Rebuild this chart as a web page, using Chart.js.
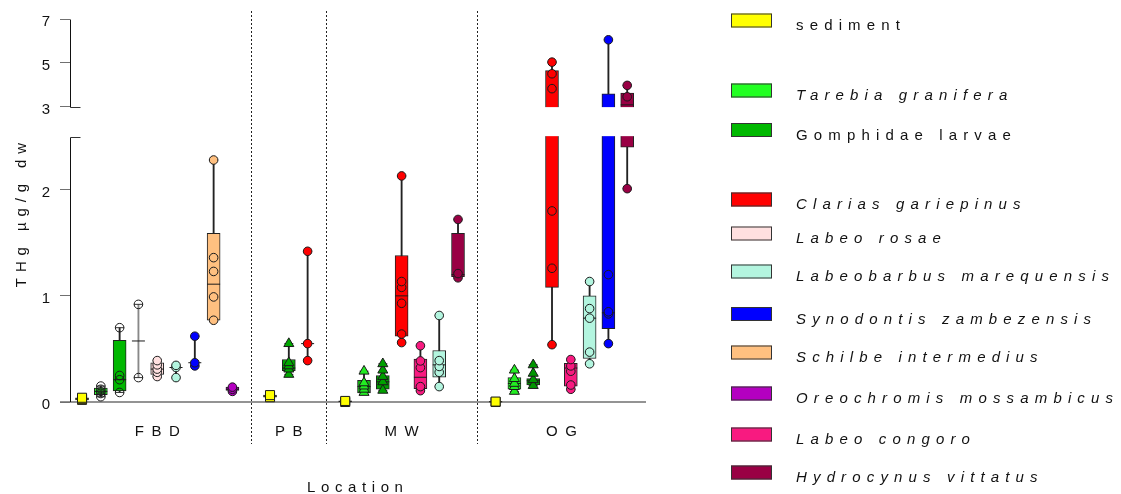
<!DOCTYPE html>
<html>
<head>
<meta charset="utf-8">
<title>THg by location</title>
<script src="https://cdn.jsdelivr.net/npm/chart.js@4.4.1/dist/chart.umd.min.js"></script>
<style>
  html, body { margin: 0; padding: 0; background: #ffffff; }
  #wrap { position: relative; width: 1121px; height: 494px; }
</style>
</head>
<body>
<div id="wrap"><canvas id="chart" width="1121" height="494"></canvas></div>
<script>
// ---- data -------------------------------------------------------------
const locations = ['FBD', 'PB', 'MW', 'OG'];
const yTickValues = [0, 1, 2, 3, 5, 7];
const lowerRange = [0, 2.5];   // lower panel of the broken axis
const upperRange = [3, 7];     // upper panel of the broken axis

// THg (µg/g dw) per location in the order FBD, PB, MW, OG; null = not sampled
const sedimentValues    = [[0.02, 0.03, 0.04], [0.045, 0.065], [0.0, 0.01], [0.0, 0.004]];
const sedimentBox       = [[0.02, 0.03, 0.04], [0.045, 0.055, 0.065], [0.0, 0.005, 0.01], [0.0, 0.002, 0.004]];

const tarebiaValues     = [[0.05, 0.08, 0.10, 0.12, 0.15], null, [0.09, 0.12, 0.15, 0.18, 0.29], [0.10, 0.145, 0.175, 0.22, 0.30]];
const tarebiaBox        = [[0.07, 0.10, 0.13], null, [0.085, 0.145, 0.205], [0.12, 0.175, 0.23]];

const gomphidaeValues   = [[0.09, 0.21, 0.25, 0.70], [0.26, 0.31, 0.34, 0.37, 0.55], [0.11, 0.19, 0.24, 0.30, 0.36], [0.155, 0.21, 0.27, 0.35]];
const gomphidaeBox      = [[0.105, 0.21, 0.58], [0.295, 0.32, 0.40], [0.12, 0.19, 0.25], [0.16, 0.20, 0.22]];

const clariasValues     = [[0.23, 0.92], [0.39, 0.55, 1.42], [0.56, 0.64, 0.93, 1.08, 1.135, 2.13], [0.54, 1.26, 1.80, 3.82, 4.50, 5.03]];
const clariasBox        = [[null, 0.575, null], [null, 0.55, null], [0.62, 1.00, 1.38], [1.08, 2.81, 4.64]];

const labeoRosaeValues  = [[0.24, 0.28, 0.31, 0.35, 0.39], null, null, null];
const labeoRosaeBox     = [[0.26, 0.31, 0.37], null, null, null];

const labeobarbusValues = [[0.23, 0.325, 0.345], null, [0.145, 0.28, 0.335, 0.39, 0.815], [0.36, 0.47, 0.79, 0.88, 1.135]];
const labeobarbusBox    = [[null, 0.325, null], null, [0.235, 0.35, 0.485], [0.41, 0.79, 1.00]];

const synodontisValues  = [[0.34, 0.37, 0.62], null, null, [0.55, 0.83, 0.85, 1.20, 6.05]];
const synodontisBox     = [[null, 0.37, null], null, null, [0.69, 0.84, 3.58]];

const schilbeValues     = [[0.77, 0.99, 1.23, 1.36, 2.28], null, null, null];
const schilbeBox        = [[0.77, 1.11, 1.59], null, null, null];

const oreochromisValues = [[0.10, 0.12, 0.14], null, null, null];
const oreochromisBox    = [[0.11, 0.12, 0.14], null, null, null];

const labeoCongoroValues = [null, null, [0.107, 0.145, 0.324, 0.387, 0.53], [0.12, 0.16, 0.29, 0.34, 0.40]];
const labeoCongoroBox    = [null, null, [0.125, 0.233, 0.405], [0.15, 0.32, 0.365]];

const hydrocynusValues  = [null, null, [1.17, 1.21, 1.72], [2.01, 2.71, 3.45, 3.97]];
const hydrocynusBox     = [null, null, [1.18, 1.20, 1.59], [2.40, 3.08, 3.62]];

// ---- series styling ---------------------------------------------------
const CLEAR = 'rgba(0,0,0,0)';
const species = [
  { name: 'sediment', italic: false, color: '#FFFF00', values: sedimentValues, box: sedimentBox, marker: 'rect' },
  { name: 'Tarebia granifera', italic: true, color: '#22FF22', values: tarebiaValues, box: tarebiaBox,
    marker: ['circle', 'triangle', 'triangle', 'triangle'], fill: [CLEAR, '#22EE22', '#22EE22', '#22EE22'],
    boxFill: [null, null, '#12B812', null] },
  { name: 'Gomphidae larvae', italic: false, color: '#00B800', values: gomphidaeValues, box: gomphidaeBox,
    marker: ['circle', 'triangle', 'triangle', 'triangle'], fill: [CLEAR, '#00A800', '#00A000', '#009600'],
    boxFill: [null, '#00A800', '#009C00', '#009C00'] },
  { name: 'Clarias gariepinus', italic: true, color: '#FF0000', values: clariasValues, box: clariasBox,
    marker: 'circle', fill: [CLEAR, null, null, null], whisker: ['#888888', null, null, null] },
  { name: 'Labeo rosae', italic: true, color: '#FFE0E0', values: labeoRosaeValues, box: labeoRosaeBox, marker: 'circle' },
  { name: 'Labeobarbus marequensis', italic: true, color: '#B3F5DF', values: labeobarbusValues, box: labeobarbusBox, marker: 'circle' },
  { name: 'Synodontis zambezensis', italic: true, color: '#0000FF', values: synodontisValues, box: synodontisBox, marker: 'circle' },
  { name: 'Schilbe intermedius', italic: true, color: '#FFC080', values: schilbeValues, box: schilbeBox, marker: 'circle' },
  { name: 'Oreochromis mossambicus', italic: true, color: '#B400C0', values: oreochromisValues, box: oreochromisBox, marker: 'circle' },
  { name: 'Labeo congoro', italic: true, color: '#F81A80', values: labeoCongoroValues, box: labeoCongoroBox, marker: 'circle' },
  { name: 'Hydrocynus vittatus', italic: true, color: '#990044', values: hydrocynusValues, box: hydrocynusBox, marker: 'circle' }
];
// left-to-right order of the species inside each location block
const plotOrder = [0, 1, 2, 3, 4, 9, 5, 6, 7, 8, 10];
const legendRowY = [20.5, 90.5, 130, 199.5, 233.5, 271.5, 314, 352.5, 393.5, 434.5, 472.5];

const FONT = '"Liberation Sans", Arial, Helvetica, sans-serif';
const markerRadius = { circle: 4.3, triangle: 5.8, rect: 6.4 };

// ---- slot layout: species side by side, one empty slot between locations
const slotOf = {};
const blockCenters = [];
const separators = [];
let slot = 0;
locations.forEach((loc, l) => {
  if (l > 0) { separators.push(slot); slot++; }
  const first = slot;
  plotOrder.forEach(s => {
    if (species[s].values[l]) { slotOf[s + '-' + l] = slot; slot++; }
  });
  blockCenters.push((first + slot - 1) / 2);
});
const slotCount = slot;

// ---- broken value axis -------------------------------------------------
const UPPER_FRAC = 87.5 / 382.5;
const GAP_FRAC = 30 / 382.5;

class BrokenLinearScale extends Chart.LinearScale {
  static id = 'brokenLinear';
  buildTicks() { return yTickValues.map(v => ({ value: v })); }
  _panels() {
    const h = this.bottom - this.top;
    const upperH = h * UPPER_FRAC;
    const gapH = h * GAP_FRAC;
    return { upperH, gapH, lowerH: h - upperH - gapH };
  }
  getPixelForValue(value) {
    if (value === null || value === undefined || isNaN(value)) return NaN;
    const p = this._panels();
    const [l0, l1] = lowerRange, [u0, u1] = upperRange;
    if (value <= l1) return this.bottom - (value - l0) / (l1 - l0) * p.lowerH;
    if (value >= u0) return this.top + p.upperH - (value - u0) / (u1 - u0) * p.upperH;
    return this.bottom - p.lowerH - (value - l1) / (u0 - l1) * p.gapH;
  }
  getValueForPixel(pixel) {
    const p = this._panels();
    const [l0, l1] = lowerRange, [u0, u1] = upperRange;
    const lowTop = this.bottom - p.lowerH;
    const upBottom = this.top + p.upperH;
    if (pixel >= lowTop) return l0 + (this.bottom - pixel) / p.lowerH * (l1 - l0);
    if (pixel <= upBottom) return u0 + (upBottom - pixel) / p.upperH * (u1 - u0);
    return l1 + (lowTop - pixel) / p.gapH * (u0 - l1);
  }
}
Chart.register(BrokenLinearScale);

// ---- datasets ------------------------------------------------------------
const pick = (v, l, dflt) => Array.isArray(v) ? (v[l] || dflt) : (v || dflt);
const datasets = [];

species.forEach((sp, s) => {
  const pts = [], styles = [], fills = [], radii = [];
  const medians = [], caps = [], boxes = [], boxFills = [], whiskers = [], whiskerColors = [];
  sp.values.forEach((vals, l) => {
    if (!vals) return;
    const x = slotOf[s + '-' + l];
    const style = pick(sp.marker, l, 'circle');
    const fill = pick(sp.fill, l, sp.color);
    vals.forEach(v => {
      pts.push({ x, y: v });
      styles.push(style);
      fills.push(fill);
      radii.push(markerRadius[style]);
    });
    const lo = Math.min(...vals), hi = Math.max(...vals);
    whiskers.push({ x, y: [lo, hi] });
    whiskerColors.push(pick(sp.whisker, l, '#222222'));
    caps.push({ x, y: lo }, { x, y: hi });
    const b = sp.box[l];
    if (b) {
      medians.push({ x, y: b[1] });
      if (b[0] !== null && b[2] !== null) {
        boxes.push({ x, y: [b[0], b[2]] });
        boxFills.push(pick(sp.boxFill, l, sp.color));
      }
    }
  });

  datasets.push({
    type: 'scatter', label: sp.name, order: 0, clip: false, data: pts,
    pointStyle: styles, pointRadius: radii, pointBackgroundColor: fills,
    pointBorderColor: '#1a1a1a', pointBorderWidth: 1
  });
  datasets.push({
    type: 'scatter', label: sp.name + ' median', order: 1, clip: false, data: medians,
    pointStyle: 'line', pointRadius: 6.5, pointBorderColor: '#1a1a1a', pointBorderWidth: 1
  });
  datasets.push({
    type: 'scatter', label: sp.name + ' range cap', order: 1, clip: false, data: caps,
    pointStyle: 'line', pointRadius: 4.5, pointBorderColor: '#333333', pointBorderWidth: 1
  });
  datasets.push({
    type: 'bar', label: sp.name + ' box', order: 2, data: boxes, grouped: false,
    barThickness: 13, backgroundColor: boxFills, borderColor: '#222222',
    borderWidth: 1, borderSkipped: false
  });
  datasets.push({
    type: 'bar', label: sp.name + ' range', order: 3, data: whiskers, grouped: false,
    barThickness: 1.2, backgroundColor: whiskerColors, borderWidth: 0
  });
});

// ---- helpers for spaced text ----------------------------------------------
function spacedWidth(ctx, text, spacing) {
  ctx.letterSpacing = '0px';
  const w = ctx.measureText(text).width;
  return w + spacing * (text.length - 1);
}
function drawSpaced(ctx, text, x, y, spacing, align) {
  const w = spacedWidth(ctx, text, spacing);
  ctx.letterSpacing = spacing + 'px';
  ctx.textAlign = 'left';
  const start = align === 'center' ? x - w / 2 : x;
  ctx.fillText(text, start, y);
  ctx.letterSpacing = '0px';
}

// ---- plugins ----------------------------------------------------------------
const axisFrame = {
  id: 'axisFrame',
  beforeDatasetsDraw(chart) {
    const { ctx, chartArea, scales: { y } } = chart;
    const y0 = Math.round(y.getPixelForValue(0));
    ctx.save();
    ctx.strokeStyle = '#6f6f6f';
    ctx.lineWidth = 1.5;
    ctx.beginPath();
    ctx.moveTo(chartArea.left - 10, y0);
    ctx.lineTo(chartArea.right, y0);
    ctx.stroke();
    ctx.restore();
  },
  afterDatasetsDraw(chart) {
    const { ctx, chartArea, scales: { x, y } } = chart;
    const gapTop = y.getPixelForValue(upperRange[0]);
    const gapBottom = y.getPixelForValue(lowerRange[1]);
    const ax = Math.round(chartArea.left) + 0.5;
    ctx.save();
    // blank band of the axis break
    ctx.fillStyle = '#ffffff';
    ctx.fillRect(chartArea.left + 1, gapTop + 0.5, chartArea.right - chartArea.left + 10, gapBottom - gapTop - 1);
    // axis segments
    ctx.strokeStyle = '#111111';
    ctx.lineWidth = 1;
    ctx.beginPath();
    ctx.moveTo(ax, Math.round(y.getPixelForValue(upperRange[1])) + 0.5);
    ctx.lineTo(ax, Math.round(gapTop) + 0.5);
    ctx.moveTo(ax, Math.round(gapBottom) + 0.5);
    ctx.lineTo(ax, Math.round(y.getPixelForValue(lowerRange[0])));
    ctx.stroke();
    // break marks
    ctx.strokeStyle = '#333333';
    ctx.beginPath();
    ctx.moveTo(ax, Math.round(gapTop) + 0.5);
    ctx.lineTo(ax + 10, Math.round(gapTop) + 0.5);
    ctx.moveTo(ax, Math.round(gapBottom) + 0.5);
    ctx.lineTo(ax + 10, Math.round(gapBottom) + 0.5);
    ctx.stroke();
    // dotted separators between locations
    ctx.strokeStyle = '#222222';
    ctx.setLineDash([2, 2]);
    ctx.beginPath();
    separators.forEach(sv => {
      const sx = Math.round(x.getPixelForValue(sv)) + 0.5;
      ctx.moveTo(sx, 11);
      ctx.lineTo(sx, 444);
    });
    ctx.stroke();
    ctx.restore();
  },
  afterDraw(chart) {
    const { ctx, chartArea, scales: { x } } = chart;
    ctx.save();
    ctx.fillStyle = '#111111';
    ctx.textBaseline = 'alphabetic';
    // location labels
    ctx.font = '15px ' + FONT;
    locations.forEach((loc, l) => {
      drawSpaced(ctx, loc, x.getPixelForValue(blockCenters[l]), 435.5, 7.5, 'center');
    });
    // axis titles
    drawSpaced(ctx, 'Location', (chartArea.left + chartArea.right) / 2 - 3, 491.5, 5.6, 'center');
    ctx.save();
    ctx.translate(26, 215);
    ctx.rotate(-Math.PI / 2);
    drawSpaced(ctx, 'THg µg/g dw', 0, 0, 5.9, 'center');
    ctx.restore();
    // legend
    species.forEach((sp, i) => {
      const cy = legendRowY[i];
      ctx.fillStyle = sp.color;
      ctx.fillRect(731, cy - 7, 41, 14);
      ctx.strokeStyle = '#333333';
      ctx.lineWidth = 1;
      ctx.strokeRect(731.5, cy - 6.5, 40, 13);
      ctx.fillStyle = '#111111';
      ctx.font = (sp.italic ? 'italic ' : '') + '15px ' + FONT;
      drawSpaced(ctx, sp.name, 796, cy + 9.6, 6.15, 'left');
    });
    ctx.restore();
  }
};

// ---- chart ------------------------------------------------------------------
Chart.defaults.font.family = FONT;
Chart.defaults.font.size = 15;
Chart.defaults.color = '#111111';

new Chart(document.getElementById('chart'), {
  type: 'scatter',
  data: { datasets },
  options: {
    responsive: false,
    animation: false,
    devicePixelRatio: 1,
    events: [],
    layout: { padding: { top: 19, right: 475, bottom: 0, left: 0 } },
    plugins: { legend: { display: false }, tooltip: { enabled: false } },
    scales: {
      x: {
        type: 'linear',
        min: -0.64,
        max: slotCount,
        offset: false,
        grid: { display: false, drawTicks: false },
        border: { display: false },
        ticks: { display: false },
        afterFit(scale) { scale.height = 92; }
      },
      y: {
        type: 'brokenLinear',
        min: 0,
        max: 7,
        grid: { drawOnChartArea: false, drawTicks: true, tickLength: 10, color: '#707070', lineWidth: 1 },
        border: { display: false },
        ticks: {
          autoSkip: false,
          padding: 10,
          labelOffset: 3,
          color: '#111111',
          font: { size: 15 },
          callback: v => String(v)
        },
        afterFit(scale) { scale.width = 70; }
      }
    }
  },
  plugins: [axisFrame]
});
</script>
</body>
</html>
